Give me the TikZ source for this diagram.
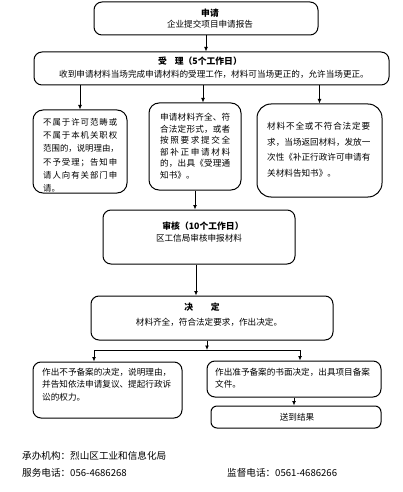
\documentclass[tikz,border=0pt]{standalone}
\usepackage{fontspec}
\newfontfamily\cjk{Noto Sans CJK SC}
\usetikzlibrary{arrows.meta}
\def\jfirst#1{#1\jrest}
\def\jrest#1{\ifx\relax#1\else\hskip0pt plus1fil #1\expandafter\jrest\fi}
\newcommand\jl[2]{\hbox to #1{\jfirst#2\relax}}
\begin{document}
\begin{tikzpicture}[x=1pt,y=-1pt,
  box/.style={draw=black, line width=1pt, rounded corners=8pt, inner sep=0pt},
  txt/.style={font=\cjk\fontsize{8.6}{11}\selectfont, inner sep=0pt},
  ttl/.style={font=\cjk\bfseries\fontsize{8.8}{11}\selectfont, inner sep=0pt},
  foot/.style={font=\cjk\fontsize{9.6}{12}\selectfont, inner sep=0pt, anchor=west},
  arr/.style={line width=0.9pt, -{Latex[length=4.5pt,width=4pt]}},
  ln/.style={line width=0.9pt}]
\useasboundingbox (0,0) rectangle (403,492);
\fill[white] (0,0) rectangle (403,492);

% boxes
\node[box, minimum width=224pt, minimum height=33pt] (b1) at (206,18.5) {};
\node[box, minimum width=355pt, minimum height=33pt] (b2) at (211.5,68.5) {};
\node[box, rounded corners=10pt, minimum width=94pt, minimum height=83pt] (b3a) at (80,151.5) {};
\node[box, rounded corners=10pt, minimum width=92pt, minimum height=87pt] (b3b) at (195,146.5) {};
\node[box, rounded corners=14pt, minimum width=125pt, minimum height=93pt] (b3c) at (319.5,150.5) {};
\node[box, minimum width=192pt, minimum height=54pt] (b4) at (199,237) {};
\node[box, minimum width=242pt, minimum height=44pt] (b5) at (212,318) {};
\node[box, minimum width=149pt, minimum height=56pt] (b6a) at (107.5,390) {};
\node[box, minimum width=174pt, minimum height=36pt] (b6b) at (294,379) {};
\node[box, rounded corners=6pt, minimum width=170pt, minimum height=22pt] (b7) at (296,417) {};

% texts
\node[ttl] (t1) at (210,13) {申请};
\node[txt] (t1b) at (210,24.5) {企业提交项目申请报告};
\node[ttl] (t2) at (200,61) {受\hspace{0.9em}理（5个工作日）};
\node[txt] (t2b) at (214,74) {收到申请材料当场完成申请材料的受理工作，材料可当场更正的，允许当场更正。};
\node[txt, font=\cjk\fontsize{8.4}{13.3}\selectfont, anchor=north west, align=left] (t3a) at (43,118)
  {\jl{74pt}{不属于许可范畴或}\\\jl{74pt}{不属于本机关职权}\\\jl{74pt}{范围的，说明理由，}\\\jl{74pt}{不予受理；告知申}\\\jl{74pt}{请人向有关部门申}\\请。};
\node[txt, font=\cjk\fontsize{8.6}{11.6}\selectfont, anchor=north west, align=left] (t3b) at (160,113)
  {\jl{70pt}{申请材料齐全、符}\\\jl{70pt}{合法定形式，或者}\\\jl{70pt}{按照要求提交全}\\\jl{70pt}{部补正申请材料}\\\jl{70pt}{的，出具《受理通}\\知书》。};
\node[txt, font=\cjk\fontsize{8.6}{15.5}\selectfont, anchor=north west, align=left] (t3c) at (267,122)
  {\jl{103pt}{材料不全或不符合法定要}\\\jl{103pt}{求，当场返回材料，发放一}\\\jl{103pt}{次性《补正行政许可申请有}\\关材料告知书》。};
\node[ttl] (t4) at (203,226) {审核（10个工作日）};
\node[txt] (t4b) at (199,238) {区工信局审核申报材料};
\node[ttl] (t5) at (202,307) {决\hspace{2em}定};
\node[txt] (t5b) at (209,322) {材料齐全，符合法定要求，作出决定。};
\node[txt, font=\cjk\fontsize{8.6}{12.5}\selectfont, anchor=north west, align=left] (t6a) at (42,368)
  {作出不予备案的决定，说明理由，\\并告知依法申请复议、提起行政诉\\讼的权力。};
\node[txt, font=\cjk\fontsize{8.6}{12.3}\selectfont, anchor=north west, align=left] (t6b) at (215,368)
  {作出准予备案的书面决定，出具项目备案\\文件。};
\node[txt] (t7) at (297,417) {送到结果};

% footer
\node[foot] (f1) at (22,456) {承办机构：烈山区工业和信息化局};
\node[foot] (f2) at (22,473) {服务电话：056-4686268};
\node[foot] (f3) at (227,473) {监督电话：0561-4686266};

% connectors
\draw[arr] (b1.south) -- (b1.south |- b2.north);
\draw[arr] (b3a.north |- b2.south) -- (b3a.north);
\draw[arr] ([xshift=8pt]b3b.north |- b2.south) -- ([xshift=8pt]b3b.north);
\draw[arr] (b3c.north |- b2.south) -- (b3c.north);
\draw[arr] (b3b.south) -- (b3b.south |- b4.north);
\draw[arr] ([xshift=-3pt]b4.south) -- ([xshift=-3pt]b4.south |- b5.north);
\coordinate (j) at (207,350);
\coordinate (jl) at (94,350);
\coordinate (jr) at (300,350);
\draw[arr] (b5.south -| j) -- (j);
\draw[ln] (jl) -- (jr);
\draw[arr] (jl) -- (jl |- b6a.north);
\draw[arr] (jr) -- (jr |- b6b.north);
\draw[arr] (b6b.south) -- (b6b.south |- b7.north);
\end{tikzpicture}
\end{document}
